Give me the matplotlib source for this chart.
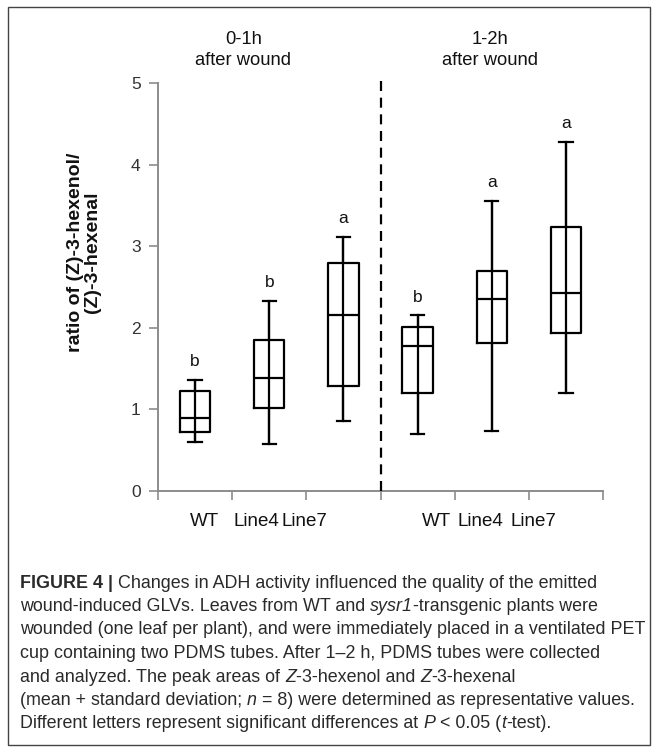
import numpy as np
import matplotlib
matplotlib.use('Agg')
import matplotlib.pyplot as plt
from matplotlib.patches import Rectangle
from matplotlib.transforms import blended_transform_factory

plt.rcParams['font.family'] = ['Liberation Sans', 'DejaVu Sans']

# data
groups = ['WT', 'Line4', 'Line7', 'WT', 'Line4', 'Line7']
whisker_low = [0.60, 0.57, 0.86, 0.70, 0.73, 1.20]
box_low = [0.72, 1.01, 1.28, 1.20, 1.81, 1.94]
median = [0.89, 1.38, 2.15, 1.78, 2.35, 2.43]
box_high = [1.22, 1.85, 2.79, 2.01, 2.69, 3.24]
whisker_high = [1.36, 2.33, 3.11, 2.15, 3.55, 4.28]
letters = ['b', 'b', 'a', 'b', 'a', 'a']
periods = ['0-1h\nafter wound', '1-2h\nafter wound']
yticks = [0, 1, 2, 3, 4, 5]

W, H = 657, 752
fig = plt.figure(figsize=(W / 100, H / 100), dpi=100)
ax = fig.add_axes([158 / W, 1 - 490.7 / H, (603 - 158) / W, (490.7 - 83) / H])

pos = np.arange(len(groups)) + 0.5

# whisker line runs through the whole box
ax.vlines(pos, whisker_low, whisker_high, color='black', lw=1.6, zorder=2)
stats = []
for i in range(len(groups)):
    stats.append(dict(whislo=whisker_low[i], q1=box_low[i], med=median[i],
                      q3=box_high[i], whishi=whisker_high[i], fliers=[]))
ax.bxp(stats, positions=pos, widths=0.41, capwidths=0.18, showfliers=False,
       boxprops=dict(color='black', lw=1.6),
       medianprops=dict(color='black', lw=1.6),
       whiskerprops=dict(color='black', lw=1.6),
       capprops=dict(color='black', lw=1.6), manage_ticks=False, zorder=3)

for p, hi, let in zip(pos, whisker_high, letters):
    ax.annotate(let, (p, hi), xytext=(0, 10), textcoords='offset points',
                ha='center', va='baseline', fontsize=12.5, color='#111')

# separator between the two periods
ax.plot([3, 3], [0, 5.08], ls=(0, (4.5, 3)), color='black', lw=1.6,
        clip_on=False, zorder=4)

ax.set_xlim(0, 6)
ax.set_ylim(0, 5)
ax.set_xticks(np.arange(0, 7))
ax.set_xticklabels([])
ax.set_yticks(yticks)
ax.tick_params(axis='both', direction='out', length=6.5, width=1.2,
               color='#8c8c8c', labelsize=12.5, labelcolor='#333333')
ax.tick_params(axis='y', pad=6)
for s in ['top', 'right']:
    ax.spines[s].set_visible(False)
for s in ['left', 'bottom']:
    ax.spines[s].set_color('#8c8c8c')
    ax.spines[s].set_linewidth(1.4)

# category labels (placed like the original, not centred on boxes)
label_x = [0.63, 1.32, 1.97, 3.76, 4.35, 5.06]
tr = blended_transform_factory(ax.transData, fig.transFigure)
for lx, g in zip(label_x, groups):
    ax.text(lx, 1 - 522 / H, g, transform=tr, ha='center', va='center',
            fontsize=13.5, color='#111')

header_x = [1.15, 4.48]
for hx, txt in zip(header_x, periods):
    ax.text(hx, 1 - 50 / H, txt, transform=tr, ha='center', va='center',
            fontsize=13.2, color='#111', linespacing=1.35)

fig.text(84 / W, 1 - 252 / H, 'ratio of (Z)-3-hexenol/\n(Z)-3-hexenal',
         rotation=90, ha='center', va='center', multialignment='center',
         fontsize=14, fontweight='bold', linespacing=1.0, color='#111')

# outer frame
fig.add_artist(Rectangle((8 / W, 7 / H), (650 - 8) / W, (745 - 7) / H,
                         transform=fig.transFigure, fill=False,
                         ec='#444444', lw=1.0))

# caption, built segment by segment for bold / italic parts
caption = [
    [('FIGURE 4 |', 'bold'), (' Changes in ADH activity influenced the quality of the emitted', 'normal')],
    [('wound-induced GLVs. Leaves from WT and ', 'normal'), ('sysr1', 'italic'), ('-transgenic plants were', 'normal')],
    [('wounded (one leaf per plant), and were immediately placed in a ventilated PET', 'normal')],
    [('cup containing two PDMS tubes. After 1\u20132 h, PDMS tubes were collected', 'normal')],
    [('and analyzed. The peak areas of ', 'normal'), ('Z', 'italic'), ('-3-hexenol and ', 'normal'),
     ('Z', 'italic'), ('-3-hexenal', 'normal')],
    [('(mean + standard deviation; ', 'normal'), ('n', 'italic'), (' = 8) were determined as representative values.', 'normal')],
    [('Different letters represent significant differences at ', 'normal'), ('P', 'italic'),
     (' < 0.05 (', 'normal'), ('t', 'italic'), ('-test).', 'normal')],
]
renderer = fig.canvas.get_renderer()
cap_size = 12.9
for k, line in enumerate(caption):
    x = 20.0
    y = 583 + k * 23.5
    for txt, style in line:
        kw = dict(fontsize=cap_size, color='#2a2a2a', va='center', ha='left')
        if style == 'bold':
            kw['fontweight'] = 'bold'
        elif style == 'italic':
            kw['fontstyle'] = 'italic'
        t = fig.text(x / W, 1 - y / H, txt, **kw)
        bb = t.get_window_extent(renderer)
        x = bb.x1

fig.savefig('out.png', dpi=100)
